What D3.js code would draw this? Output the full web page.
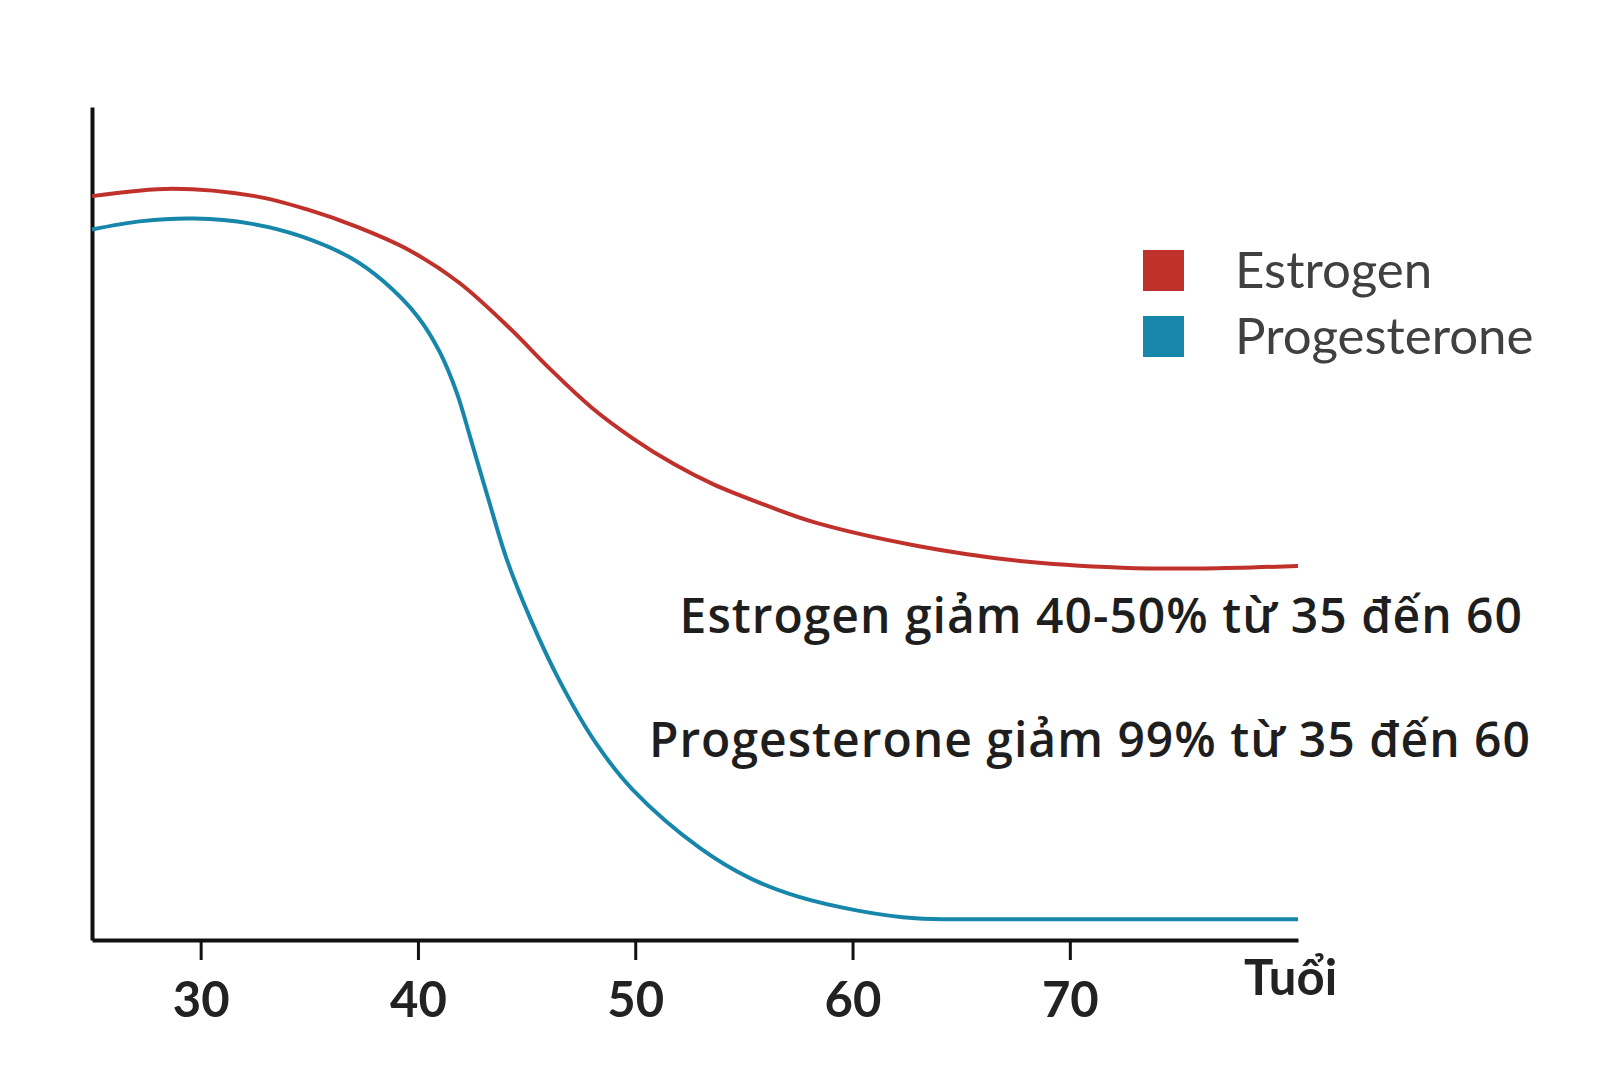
<!DOCTYPE html>
<html>
<head>
<meta charset="utf-8">
<script src="https://cdn.jsdelivr.net/npm/d3@7"></script>
<style>
  html, body { margin: 0; padding: 0; background: #ffffff; }
  svg { display: block; }
</style>
</head>
<body>
<svg id="chart" width="1600" height="1066"></svg>
<script>
// ---- data (age in years, relative hormone level 0-100) ----
const estrogenAges   = [25, 28.7, 32.5, 34.9, 37.2, 39.6, 41.9, 44.2, 46.1, 48.0, 49.9, 51.8, 53.6, 56.0, 58.3, 63.0, 67.7, 72.4, 76.2, 80.5];
const estrogenLevels = [89.3, 90.2, 89.3, 87.7, 85.6, 82.8, 78.9, 73.5, 68.5, 63.9, 60.2, 57.1, 54.7, 52.2, 50.1, 47.3, 45.5, 44.7, 44.6, 44.9];
const progesteroneAges   = [25, 27.3, 29.7, 32.3, 34.6, 36.9, 38.4, 40.0, 41.0, 41.8, 42.4, 43.2, 44.1, 45.2, 46.5, 48.2, 49.9, 53.0, 55.3, 57.5, 60.3, 62.9, 66.8, 80.5];
const progesteroneLevels = [85.3, 86.3, 86.6, 86.0, 84.5, 81.9, 79.1, 74.8, 70.6, 65.6, 60.4, 53.3, 45.6, 38.4, 31.2, 23.6, 18.0, 11.0, 7.4, 5.2, 3.5, 2.6, 2.5, 2.5];
const tickAges = [30, 40, 50, 60, 70];
const seriesNames = ["Estrogen", "Progesterone"];
const seriesColors = ["#c0312b", "#1786ab"];
const annotations = ["Estrogen giảm 40-50% từ 35 đến 60", "Progesterone giảm 99% từ 35 đến 60"];
const xAxisTitle = "Tuổi";

const svg = d3.select("#chart");
const x = d3.scaleLinear().domain([25, 80.5]).range([92, 1298]);
const y = d3.scaleLinear().domain([0, 100]).range([940, 107]);

// x axis
const xAxis = svg.append("g")
  .attr("transform", `translate(0,${y(0)})`)
  .call(d3.axisBottom(x).tickValues(tickAges).tickSize(20).tickSizeOuter(0).tickPadding(22));
xAxis.select(".domain").attr("stroke", "#111").attr("stroke-width", 4);
xAxis.selectAll(".tick line").attr("stroke", "#111").attr("stroke-width", 3);
xAxis.selectAll(".tick text")
  .attr("font-family", "Lato, sans-serif")
  .attr("font-size", 49)
  .attr("font-weight", 700)
  .attr("fill", "#222");

// y axis (no ticks)
const yAxis = svg.append("g")
  .attr("transform", `translate(${x(25)},0)`)
  .call(d3.axisLeft(y).tickValues([]).tickSizeOuter(0));
yAxis.select(".domain").attr("stroke", "#111").attr("stroke-width", 4);

svg.append("text")
  .attr("x", 1244).attr("y", 995)
  .attr("font-family", "Lato, sans-serif")
  .attr("font-size", 49)
  .attr("font-weight", 700)
  .attr("fill", "#222")
  .text(xAxisTitle);

// lines
const line = d3.line()
  .x(d => x(d[0]))
  .y(d => y(d[1]))
  .curve(d3.curveCatmullRom.alpha(0.5));

const seriesData = [
  d3.zip(estrogenAges, estrogenLevels),
  d3.zip(progesteroneAges, progesteroneLevels)
];

svg.selectAll("path.series")
  .data(seriesData)
  .join("path")
  .attr("class", "series")
  .attr("d", line)
  .attr("fill", "none")
  .attr("stroke", (d, i) => seriesColors[i])
  .attr("stroke-width", 4);

// legend
const legend = svg.append("g").attr("transform", "translate(1143,250)");
const items = legend.selectAll("g")
  .data(seriesNames)
  .join("g")
  .attr("transform", (d, i) => `translate(0,${i * 66})`);
items.append("rect")
  .attr("width", 41).attr("height", 41)
  .attr("fill", (d, i) => seriesColors[i]);
items.append("text")
  .attr("x", 92).attr("y", 38)
  .attr("font-family", "Lato, sans-serif")
  .attr("font-size", 51)
  .attr("fill", "#404040")
  .text(d => d);

// annotations
svg.selectAll("text.note")
  .data(annotations)
  .join("text")
  .attr("class", "note")
  .attr("x", (d, i) => [1523, 1531][i])
  .attr("y", (d, i) => [633, 757][i])
  .attr("text-anchor", "end")
  .attr("font-family", "'Open Sans', sans-serif")
  .attr("font-size", 48)
  .attr("font-weight", 600)
  .attr("letter-spacing", 1)
  .attr("fill", "#1e1e1e")
  .text(d => d);
</script>
</body>
</html>
